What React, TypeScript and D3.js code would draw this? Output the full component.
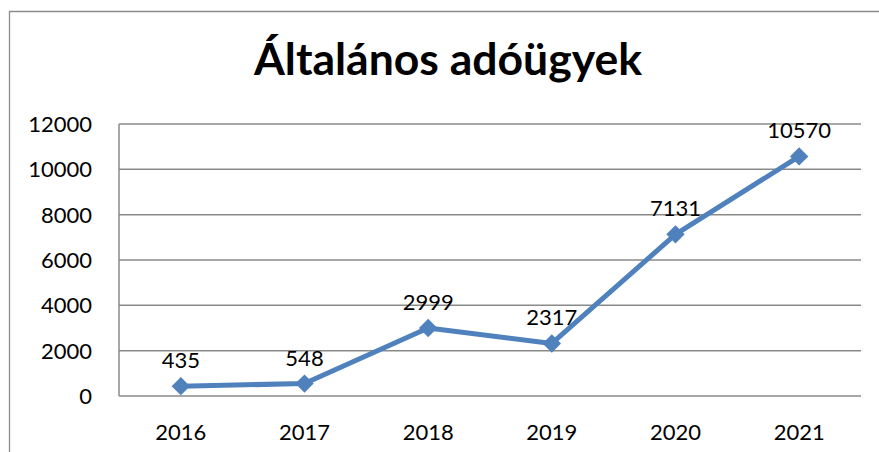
import React from "react";
import * as d3 from "d3";

const years = ["2016", "2017", "2018", "2019", "2020", "2021"];
const values = [435, 548, 2999, 2317, 7131, 10570];
const yTicks = [0, 2000, 4000, 6000, 8000, 10000, 12000];
const title = "Általános adóügyek";

export default function App() {
  const W = 879, H = 452;
  const left = 119, right = 861, top = 124, bottom = 396;
  const x = d3.scaleBand().domain(years).range([left, right]);
  const y = d3.scaleLinear().domain([0, 12000]).range([bottom, top]);
  const cx = (d: string) => (x(d) as number) + x.bandwidth() / 2;
  const line = d3.line<number>().x((_, i) => cx(years[i])).y((v) => y(v));
  const font = "Lato, 'Open Sans', sans-serif";
  return (
    <svg width={W} height={H} style={{ position: "absolute", left: 0, top: 0 }}>
      <rect x={0} y={0} width={W} height={H} fill="#fff" />
      <path d={`M9.5,${H} V11.5 H${W}`} fill="none" stroke="#8c8c8c" strokeWidth={1.3} />
      <text x={448} y={75} textAnchor="middle" fontFamily={font} fontWeight="bold" fontSize={44.5} fill="#000">{title}</text>
      {yTicks.map((t) => (
        <g key={t}>
          {t > 0 && <line x1={left} x2={right} y1={y(t)} y2={y(t)} stroke="#8a8a8a" strokeWidth={1.5} />}
          <text x={92} y={y(t) + 8} textAnchor="end" fontFamily={font} fontSize={22} fill="#000">{t}</text>
        </g>
      ))}
      <line x1={left} x2={left} y1={top} y2={bottom} stroke="#8a8a8a" strokeWidth={1.5} />
      <line x1={left} x2={right} y1={bottom} y2={bottom} stroke="#8a8a8a" strokeWidth={1.5} />
      {years.map((yr) => (
        <text key={yr} x={cx(yr)} y={440} textAnchor="middle" fontFamily={font} fontSize={22} fill="#000">{yr}</text>
      ))}
      <path d={line(values) as string} fill="none" stroke="#4F81BD" strokeWidth={5} strokeLinejoin="round" />
      {values.map((v, i) => (
        <g key={i}>
          <rect x={cx(years[i]) - 6.5} y={y(v) - 6.5} width={13} height={13} fill="#4F81BD"
            transform={`rotate(45 ${cx(years[i])} ${y(v)})`} />
          <text x={cx(years[i])} y={y(v) - 18} textAnchor="middle" fontFamily={font} fontSize={22} fill="#000">{v}</text>
        </g>
      ))}
    </svg>
  );
}
